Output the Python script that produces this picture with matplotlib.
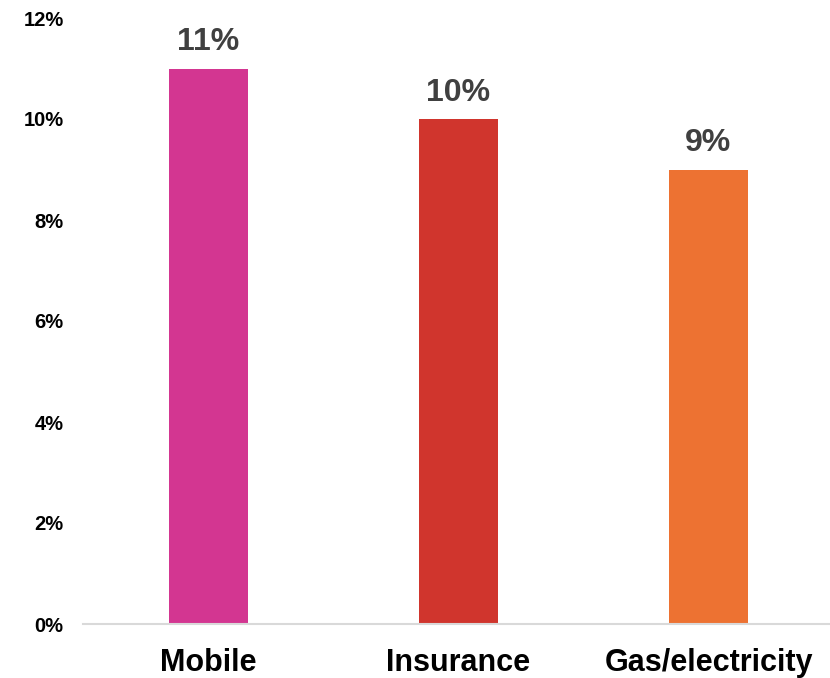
import numpy as np
import matplotlib.pyplot as plt

plt.rcParams['font.family'] = ['Liberation Sans', 'DejaVu Sans']

# dati del grafico
categorie = ['Mobile', 'Insurance', 'Gas/electricity']
valori = [11, 10, 9]
colori = ['#D33691', '#D0352D', '#ED7232']
tick_y = [0, 2, 4, 6, 8, 10, 12]

fig = plt.figure(figsize=(8.3, 6.78), dpi=100)
ax = fig.add_axes([83 / 830, 54 / 678, 747 / 830, 606 / 678])

x = np.arange(len(categorie))
barre = ax.bar(x, valori, width=0.316, color=colori, zorder=2)

for xi, v in zip(x, valori):
    ax.annotate(str(v) + '%', (xi, v), xytext=(0, 8), textcoords='offset points',
                ha='center', va='bottom', fontsize=23, fontweight='bold', color='#404040')

ax.set_xlim(-0.502, 2.486)
ax.set_ylim(0, 12)
ax.set_yticks(tick_y)
ax.set_yticklabels([str(t) + '%' for t in tick_y], fontsize=14.5, fontweight='bold')
ax.set_xticks(x)
ax.set_xticklabels(categorie, fontsize=22, fontweight='bold')
ax.tick_params(axis='y', length=0, pad=14)
ax.tick_params(axis='x', length=0, pad=17)

for s in ['top', 'right', 'left']:
    ax.spines[s].set_visible(False)
ax.spines['bottom'].set_color('#D9D9D9')
ax.spines['bottom'].set_linewidth(1.5)

fig.savefig('out.png', dpi=100)
